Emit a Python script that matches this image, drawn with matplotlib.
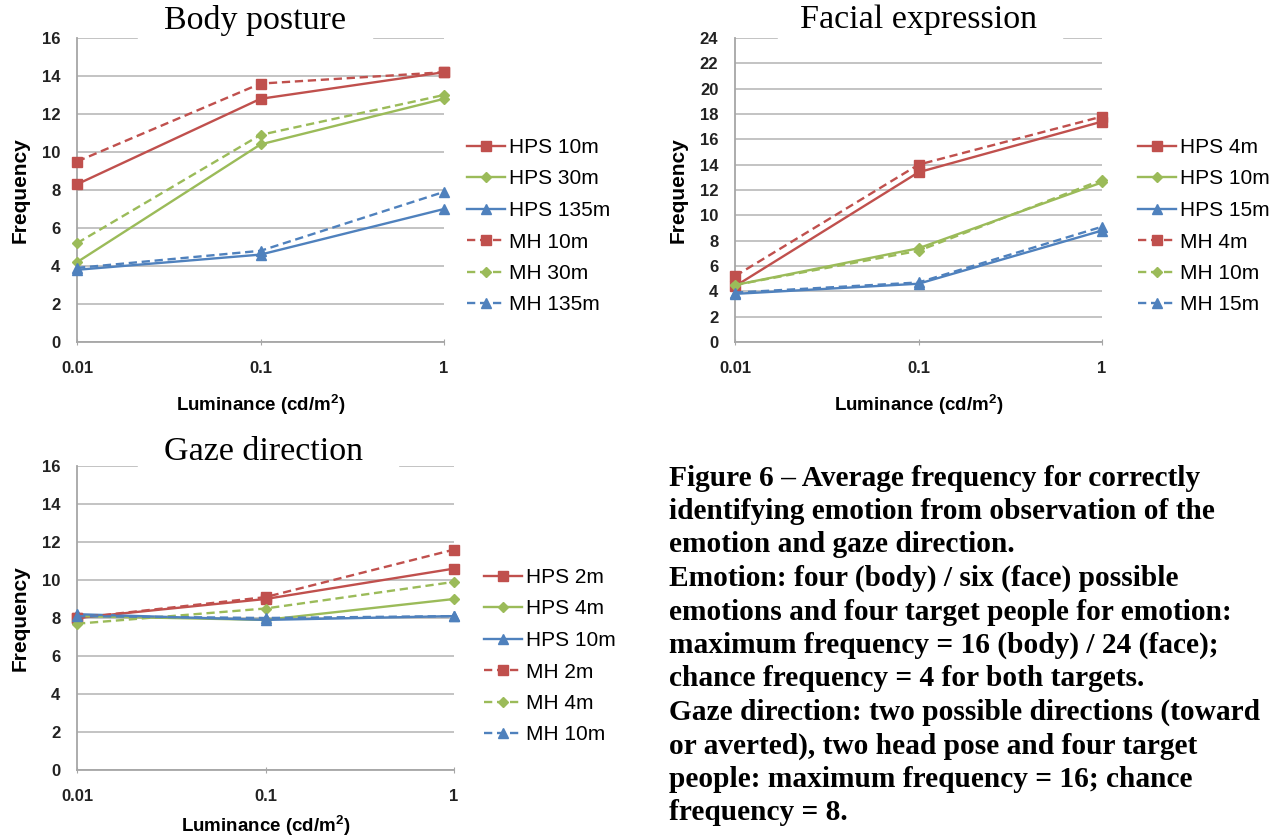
import matplotlib.pyplot as plt
from matplotlib.patches import Rectangle

plt.rcParams['font.family'] = ['Liberation Sans', 'DejaVu Sans']

lum = [0.01, 0.1, 1]

# body posture
body_labels = ['HPS 10m', 'HPS 30m', 'HPS 135m', 'MH 10m', 'MH 30m', 'MH 135m']
body_vals = [
    [8.3, 12.8, 14.2],
    [4.2, 10.4, 12.8],
    [3.8, 4.6, 7.0],
    [9.5, 13.6, 14.2],
    [5.2, 10.9, 13.0],
    [3.9, 4.8, 7.9],
]

# facial expression
face_labels = ['HPS 4m', 'HPS 10m', 'HPS 15m', 'MH 4m', 'MH 10m', 'MH 15m']
face_vals = [
    [4.4, 13.4, 17.4],
    [4.5, 7.4, 12.6],
    [3.8, 4.6, 8.8],
    [5.2, 14.0, 17.8],
    [4.5, 7.2, 12.8],
    [3.9, 4.7, 9.1],
]

# gaze direction
gaze_labels = ['HPS 2m', 'HPS 4m', 'HPS 10m', 'MH 2m', 'MH 4m', 'MH 10m']
gaze_vals = [
    [8.0, 9.0, 10.6],
    [8.1, 7.9, 9.0],
    [8.2, 7.9, 8.1],
    [8.0, 9.1, 11.6],
    [7.7, 8.5, 9.9],
    [8.1, 8.0, 8.1],
]

caption = [
    "Figure 6 \u2013 Average frequency for correctly",
    "identifying emotion from observation of the",
    "emotion and gaze direction.",
    "Emotion: four (body) / six (face) possible",
    "emotions and four target people for emotion:",
    "maximum frequency = 16 (body) / 24 (face);",
    "chance frequency = 4 for both targets.",
    "Gaze direction: two possible directions (toward",
    "or averted), two head pose and four target",
    "people: maximum frequency = 16; chance",
    "frequency = 8.",
]

colors = ['#C0504D', '#9BBB59', '#4F81BD']
markers = ['s', 'D', '^']
msizes = [7.5, 4.8, 7]

W, H = 1279, 840
fig = plt.figure(figsize=(W / 100, H / 100), dpi=100)


def px_box(x0, x1, ytop, ybot):
    return [x0 / W, 1 - ybot / H, (x1 - x0) / W, (ybot - ytop) / H]


def draw_panel(rect, labels, vals, ymax, title, title_xy, gap, leg_xy, xpad=11):
    ax = fig.add_axes(rect)
    for i, (lab, v) in enumerate(zip(labels, vals)):
        k = i % 3
        ls = '-' if i < 3 else (0, (3.5, 2))
        ax.plot(lum, v, color=colors[k], ls=ls, lw=1.7, marker=markers[k],
                ms=msizes[k], mec=colors[k], mfc=colors[k], label=lab,
                clip_on=False, zorder=3)
    ax.set_xscale('log')
    ax.set_xlim(0.01, 1)
    ax.set_ylim(0, ymax)
    ax.set_yticks(range(0, ymax + 1, 2))
    ax.set_xticks(lum)
    ax.set_xticklabels(['0.01', '0.1', '1'])
    ax.minorticks_off()
    ax.grid(axis='y', color='#BEBEBE', lw=1.3)
    ax.set_axisbelow(True)
    for s in ['top', 'right']:
        ax.spines[s].set_visible(False)
    for s in ['left', 'bottom']:
        ax.spines[s].set_color('#A6A6A6')
        ax.spines[s].set_linewidth(1.3)
    ax.tick_params(axis='x', length=4, color='#A6A6A6', direction='inout', pad=12)
    ax.tick_params(axis='y', length=0, pad=12)
    for t in ax.get_xticklabels() + ax.get_yticklabels():
        t.set_fontsize(12)
        t.set_fontweight('bold')
        t.set_color('#222222')
    ax.set_xlabel('Luminance (cd/m$^\\mathregular{2}$)', fontsize=13.5,
                  fontweight='bold', labelpad=xpad)
    ax.set_ylabel('Frequency', fontsize=15, fontweight='bold', labelpad=9)

    # white box that hides the top grid line behind the title
    g0, g1, gy = gap
    fig.add_artist(Rectangle((g0 / W, 1 - (gy + 12) / H), (g1 - g0) / W, 24 / H,
                             transform=fig.transFigure, color='white', zorder=5))
    fig.text(title_xy[0] / W, 1 - title_xy[1] / H, title,
             family=['Liberation Serif', 'DejaVu Serif'], fontsize=24.5,
             ha='center', va='center', zorder=6)

    ax.legend(loc='upper left', bbox_to_anchor=(leg_xy[0] / W, 1 - leg_xy[1] / H),
              bbox_transform=fig.transFigure, frameon=False, fontsize=15,
              handlelength=1.8, handletextpad=0.2, labelspacing=0.6,
              borderpad=0, borderaxespad=0)
    return ax


draw_panel(px_box(77, 444, 38, 342), body_labels, body_vals, 16,
           'Body posture', (255, 20), (138, 372, 38), (467, 138))
draw_panel(px_box(735, 1102, 38, 342), face_labels, face_vals, 24,
           'Facial expression', (918, 20), (778, 1062, 38), (1138, 138))
draw_panel(px_box(77, 454, 466, 770), gaze_labels, gaze_vals, 16,
           'Gaze direction', (263, 452), (138, 398, 466), (484, 568), xpad=6)

for i, line in enumerate(caption):
    fig.text(669 / W, 1 - (478 + 33.5 * i) / H, line,
             family=['Liberation Serif', 'DejaVu Serif'], fontweight='bold',
             fontsize=21.2, ha='left', va='center')

fig.savefig('out.png', dpi=100)
